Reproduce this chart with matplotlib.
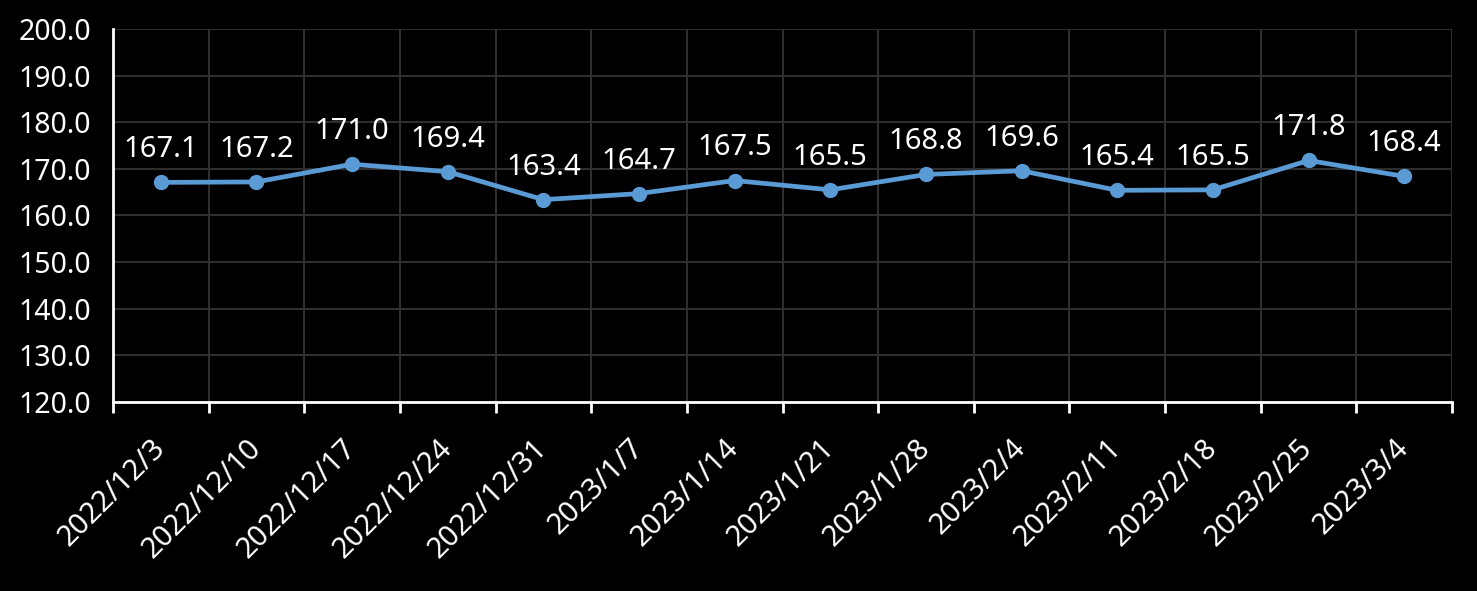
import matplotlib
matplotlib.use("Agg")
import matplotlib.pyplot as plt
import numpy as np
from matplotlib.ticker import FixedLocator, MultipleLocator

categories = ["2022/12/3", "2022/12/10", "2022/12/17", "2022/12/24", "2022/12/31",
              "2023/1/7", "2023/1/14", "2023/1/21", "2023/1/28", "2023/2/4",
              "2023/2/11", "2023/2/18", "2023/2/25", "2023/3/4"]
values = [167.1, 167.2, 171.0, 169.4, 163.4, 164.7, 167.5, 165.5, 168.8, 169.6,
          165.4, 165.5, 171.8, 168.4]

plt.rcParams['font.family'] = ['Noto Sans', 'DejaVu Sans']

fig = plt.figure(figsize=(14.77, 5.91), dpi=100, facecolor='black')
ax = fig.add_axes([113/1477, 1-402/591, (1452-113)/1477, (402-29)/591])
ax.set_facecolor('black')

x = np.arange(len(categories))
ax.plot(x, values, color='#5B9BD5', lw=3.4, marker='o', ms=10, zorder=3)
for xi, v in zip(x, values):
    ax.annotate(f"{v:.1f}", (xi, v), xytext=(0, 13), textcoords='offset points',
                ha='center', va='bottom', color='white', fontsize=21)

ax.set_xlim(-0.5, len(categories) - 0.5)
ax.set_ylim(120, 200)
ax.yaxis.set_major_locator(MultipleLocator(10))
ax.set_yticklabels([f"{t:.1f}" for t in ax.get_yticks()])
ax.set_xticks(x)
ax.set_xticklabels(categories, rotation=45, ha='right', rotation_mode='anchor', va='center')
ax.xaxis.set_minor_locator(FixedLocator(np.arange(-0.5, len(categories), 1.0)))

ax.tick_params(axis='x', which='major', length=0, pad=30, labelsize=21, colors='white')
ax.tick_params(axis='x', which='minor', length=8, width=2, color='white', direction='out')
ax.tick_params(axis='y', which='major', length=0, pad=16, labelsize=20.5, colors='white')

ax.grid(True, axis='y', which='major', color='#2e2e2e', lw=1.5)
ax.grid(True, axis='x', which='minor', color='#2e2e2e', lw=1.5)
ax.grid(False, axis='x', which='major')
ax.set_axisbelow(True)

for s in ['top', 'right']:
    ax.spines[s].set_visible(False)
for s in ['left', 'bottom']:
    ax.spines[s].set_color('white')
    ax.spines[s].set_linewidth(2)

fig.savefig('out.png', dpi=100, facecolor='black')
